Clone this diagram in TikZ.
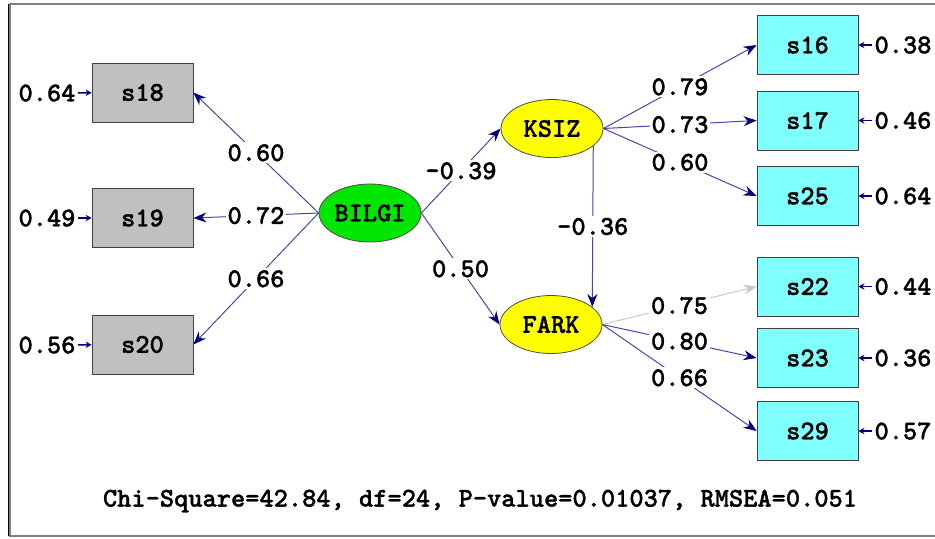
\documentclass[tikz,border=0pt]{standalone}
\usepackage{fontspec}
\newfontfamily\lisfont{lmmonolt10-bold.otf}[FakeBold=1.2]
\usetikzlibrary{shapes.geometric,arrows.meta}
\definecolor{pathblue}{RGB}{72,72,168}
\definecolor{headblue}{RGB}{0,0,128}
\definecolor{obsgray}{RGB}{192,192,192}
\definecolor{obscyan}{RGB}{128,255,255}
\definecolor{latgreen}{RGB}{0,230,0}
\definecolor{latyellow}{RGB}{255,255,0}
\definecolor{framegray}{RGB}{128,128,128}
\definecolor{fadegray}{RGB}{200,200,200}

\begin{document}
\begin{tikzpicture}[x=0.5pt,y=-0.5pt,
  font=\lisfont\fontsize{13.55}{15}\selectfont,
  obs/.style={draw=black!75,minimum width=50.5pt,minimum height=29.5pt,inner sep=0pt},
  lat/.style={ellipse,draw=black!70,minimum width=51pt,minimum height=29pt,inner sep=0pt},
  lbl/.style={fill=white,inner sep=1pt},
  errlbl/.style={inner sep=1pt},
  load/.style={draw=pathblue,line width=0.5pt,-{Stealth[length=6.5pt,width=5pt,color=headblue]}},
  loadfaded/.style={draw=fadegray,line width=0.5pt,-{Stealth[length=6.5pt,width=5pt,color=fadegray]}},
  err/.style={draw=headblue,line width=0.7pt,-{Stealth[length=3pt,width=3.2pt]}}]
\useasboundingbox (0,0) rectangle (935,538);
\draw[framegray,line width=1pt] (935,4) -- (9.5,4) -- (9.5,536) -- (935,536);
\draw[black,line width=0.5pt] (8.5,4) -- (8.5,536);

\node[obs,fill=obsgray] (s18) at (142.5,92.5) {s18};
\node[obs,fill=obsgray] (s19) at (142.5,218) {s19};
\node[obs,fill=obsgray] (s20) at (142.5,344.5) {s20};
\node[obs,fill=obscyan] (s16) at (807.5,45) {s16};
\node[obs,fill=obscyan] (s17) at (807.5,120.5) {s17};
\node[obs,fill=obscyan] (s25) at (807.5,196) {s25};
\node[obs,fill=obscyan] (s22) at (807.5,286.5) {s22};
\node[obs,fill=obscyan] (s23) at (807.5,358) {s23};
\node[obs,fill=obscyan] (s29) at (807.5,431) {s29};

\node[lat,fill=latgreen] (bilgi) at (370,213) {BILGI};
\node[lat,fill=latyellow] (ksiz) at (552,128.5) {KSIZ};
\node[lat,fill=latyellow] (fark) at (551,324.5) {FARK};

\node[errlbl] (e18) at (47,93) {0.64};
\node[errlbl] (e19) at (47,218) {0.49};
\node[errlbl] (e20) at (47,345) {0.56};
\node[errlbl] (e16) at (903,45) {0.38};
\node[errlbl] (e17) at (903,120.5) {0.46};
\node[errlbl] (e25) at (903,196) {0.64};
\node[errlbl] (e22) at (903,286.5) {0.44};
\node[errlbl] (e23) at (903,358) {0.36};
\node[errlbl] (e29) at (903,431) {0.57};

\draw[err] (e18) -- (s18);
\draw[err] (e19) -- (s19);
\draw[err] (e20) -- (s20);
\draw[err] (e16) -- (s16);
\draw[err] (e17) -- (s17);
\draw[err] (e25) -- (s25);
\draw[err] (e22) -- (s22);
\draw[err] (e23) -- (s23);
\draw[err] (e29) -- (s29);

\draw[load] (bilgi.west) -- node[lbl] {0.60} (s18.east);
\draw[load] (bilgi.west) -- node[lbl] {0.72} (s19.east);
\draw[load] (bilgi.west) -- node[lbl] {0.66} (s20.east);
\draw[load] (bilgi.east) -- node[lbl] {-0.39} (ksiz.west);
\draw[load] (bilgi.east) -- node[lbl] {0.50} (fark.west);
\draw[load] (ksiz.-23) -- node[lbl] {-0.36} (fark.23);
\draw[load] (ksiz.east) -- node[lbl] {0.79} (s16.west);
\draw[load] (ksiz.east) -- node[lbl] {0.73} (s17.west);
\draw[load] (ksiz.east) -- node[lbl] {0.60} (s25.west);
\draw[loadfaded] (fark.east) -- node[lbl] {0.75} (s22.west);
\draw[load] (fark.east) -- node[lbl] {0.80} (s23.west);
\draw[load] (fark.east) -- node[lbl] {0.66} (s29.west);

\node (fit) at (480,501) {Chi-Square=42.84, df=24, P-value=0.01037, RMSEA=0.051};
\end{tikzpicture}
\end{document}
